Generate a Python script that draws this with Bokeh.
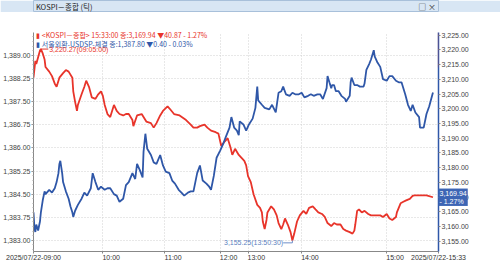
import numpy as np
from bokeh.plotting import figure
from bokeh.models import Range1d, LinearAxis, FixedTicker, NumeralTickFormatter, Label, BoxAnnotation
from bokeh.layouts import column
from bokeh.embed import file_html
from bokeh.resources import INLINE

# ---------------- data (tick sequence position, value) ----------------
kospi_idx = [0, 2, 3, 7, 8, 10, 12, 13, 17, 20, 23, 25, 28, 32, 35, 38, 42, 43, 45, 47,
             48, 52, 55, 57, 60, 63, 67, 70, 73, 75, 77, 80, 83, 87, 90, 93, 97, 100, 103, 107,
             108, 112, 117, 122, 127, 130, 133, 137, 140, 145, 148, 152, 158, 165, 170, 173, 177, 180, 185, 188,
             192, 197, 200, 203, 207, 210, 213, 215, 218, 222, 225, 228, 230, 232, 235, 238, 242, 245, 247, 248,
             250, 252, 253, 257, 260, 263, 265, 268, 270, 272, 275, 278, 280, 282, 285, 288, 292, 295, 298, 302,
             305, 308, 312, 315, 318, 322, 325, 328, 332, 335, 338, 342, 345, 347, 348, 350, 352, 355, 358, 362,
             365, 368, 372, 375, 378, 382, 385, 388, 392, 393, 395, 397, 400, 403, 407, 410, 412, 418, 425, 432]
kospi_val = [3210.56, 3216.23, 3215.19, 3219.81, 3220.27, 3218.80, 3216.73, 3214.17, 3212.62, 3211.08,
             3208.52, 3207.47, 3210.56, 3212.10, 3213.15, 3212.62, 3210.56, 3205.93, 3202.35, 3199.26,
             3201.30, 3204.91, 3207.47, 3209.54, 3207.47, 3203.89, 3203.36, 3204.91, 3205.93, 3204.38,
             3201.30, 3198.21, 3197.19, 3201.30, 3199.26, 3198.21, 3197.72, 3198.21, 3198.21, 3196.17,
             3194.10, 3197.72, 3198.21, 3195.65, 3195.12, 3193.58, 3195.12, 3197.72, 3199.26, 3200.80,
             3199.75, 3198.21, 3197.72, 3196.17, 3194.63, 3193.58, 3193.58, 3194.10, 3194.63, 3193.58,
             3192.56, 3192.04, 3191.54, 3187.41, 3188.95, 3190.00, 3186.91, 3184.32, 3186.39, 3184.32,
             3183.30, 3182.28, 3180.74, 3177.13, 3175.06, 3170.96, 3167.35, 3166.33, 3164.78, 3161.70,
             3159.14, 3162.22, 3164.78, 3166.85, 3165.80, 3163.77, 3161.17, 3159.14, 3160.68, 3162.72,
             3160.68, 3158.09, 3155.25, 3157.59, 3161.70, 3163.77, 3165.31, 3164.26, 3166.33, 3166.85,
             3165.80, 3164.78, 3164.26, 3163.24, 3161.17, 3160.15, 3161.17, 3160.68, 3160.68, 3159.14,
             3158.61, 3158.09, 3157.59, 3158.61, 3160.68, 3165.31, 3165.80, 3164.78, 3165.31, 3164.26,
             3163.77, 3163.77, 3163.77, 3163.77, 3163.24, 3164.26, 3162.72, 3162.22, 3163.24, 3164.78,
             3166.33, 3167.87, 3168.40, 3168.89, 3169.41, 3170.43, 3170.60, 3170.60, 3170.60, 3169.94]

usd_idx = [0, 1, 2, 3, 5, 7, 8, 10, 12, 13, 17, 20, 23, 25, 27, 28, 29, 31, 32, 35,
           38, 40, 42, 43, 45, 48, 52, 55, 58, 62, 64, 67, 70, 73, 77, 80, 83, 87, 90, 93,
           97, 100, 103, 107, 110, 112, 115, 118, 119, 121, 123, 127, 130, 133, 137, 140, 143, 147, 150, 153,
           157, 160, 163, 167, 170, 173, 177, 180, 183, 187, 190, 192, 195, 198, 202, 205, 208, 212, 214, 217,
           220, 222, 223, 227, 230, 233, 237, 240, 242, 243, 247, 250, 255, 258, 262, 265, 268, 270, 273, 277,
           280, 283, 287, 290, 293, 297, 300, 303, 307, 310, 313, 317, 318, 320, 322, 323, 325, 327, 330, 333,
           337, 338, 342, 343, 344, 347, 350, 353, 357, 358, 360, 363, 365, 368, 369, 372, 375, 378, 382, 385,
           388, 392, 395, 398, 402, 405, 408, 410, 413, 417, 418, 422, 425, 428, 432]
usd_val = [1383.91, 1383.41, 1383.27, 1383.51, 1383.32, 1383.61, 1383.91, 1384.30, 1384.59, 1384.50,
           1384.64, 1384.55, 1384.69, 1384.89, 1385.18, 1385.48, 1385.58, 1385.18, 1384.89, 1384.59,
           1384.35, 1384.10, 1383.91, 1383.76, 1383.96, 1384.15, 1384.35, 1384.55, 1384.45, 1384.69,
           1385.18, 1384.89, 1384.64, 1384.74, 1384.64, 1384.69, 1384.69, 1384.50, 1384.45, 1384.25,
           1384.35, 1384.79, 1384.89, 1385.18, 1384.99, 1385.48, 1385.28, 1385.04, 1385.87, 1386.46,
           1385.97, 1385.77, 1385.53, 1385.48, 1385.77, 1385.43, 1385.23, 1385.18, 1384.94, 1384.84,
           1384.64, 1384.55, 1384.45, 1384.55, 1384.59, 1384.59, 1385.18, 1385.43, 1384.94, 1384.84,
           1384.74, 1384.64, 1385.09, 1385.68, 1385.92, 1386.12, 1386.36, 1386.66, 1387.00, 1386.66,
           1386.56, 1386.41, 1386.86, 1386.76, 1386.56, 1386.76, 1386.95, 1387.30, 1387.99, 1387.54,
           1387.40, 1387.30, 1387.25, 1387.40, 1387.15, 1387.79, 1387.84, 1387.99, 1387.74, 1387.69,
           1387.79, 1387.74, 1387.74, 1387.79, 1387.64, 1387.69, 1387.74, 1387.69, 1387.74, 1387.74,
           1387.59, 1387.94, 1388.33, 1388.13, 1387.94, 1388.04, 1388.04, 1387.84, 1387.84, 1387.69,
           1387.59, 1387.50, 1387.69, 1388.13, 1388.28, 1388.04, 1388.04, 1387.99, 1387.99, 1388.09,
           1388.53, 1388.72, 1388.87, 1389.17, 1388.97, 1388.77, 1388.63, 1388.23, 1388.18, 1388.33,
           1388.33, 1388.18, 1388.13, 1388.13, 1387.74, 1387.40, 1387.20, 1387.40, 1387.15, 1387.00,
           1386.66, 1386.66, 1387.10, 1387.35, 1387.80]

time_tick_idx = [0, 75, 142, 202, 232, 290, 382, 438]
time_tick_labels = ["2025/07/22-09:00", "10:00", "11:00", "12:00", "13:00", "14:00", "15:00", "2025/07/22-15:33"]
usd_ticks = [1383.00, 1383.75, 1384.50, 1385.25, 1386.00, 1386.75, 1387.50, 1388.25, 1389.00]
kospi_ticks = [3155, 3160, 3165, 3170, 3175, 3180, 3185, 3190, 3195, 3200, 3205, 3210, 3215, 3220, 3225]

kospi_last, kospi_chg, kospi_pct, kospi_time = 3169.94, -40.87, -1.27, "15:33:00"
usd_last, usd_chg, usd_pct = 1387.80, -0.40, -0.03
kospi_high, kospi_high_idx, kospi_high_time = 3220.27, 8, "09:05:00"
kospi_low, kospi_low_idx, kospi_low_time = 3155.25, 280, "13:50:30"

RED = "#e8342a"
BLUE = "#2f57a8"
KR = "Noto Sans CJK KR"
NUM = "Liberation Sans"

# ---------------- title bar ----------------
tf = figure(width=500, height=12, x_range=Range1d(0, 500), y_range=Range1d(0, 12),
            toolbar_location=None, output_backend="svg", min_border=0,
            x_axis_type=None, y_axis_type=None)
tf.grid.visible = False
tf.outline_line_color = "#a8c0da"
tf.background_fill_color = "#d8e6f4"
tf.border_fill_color = "#d8e6f4"
tf.add_layout(Label(x=3, y=6, text="KOSPI－종합 (틱)", text_font=KR, text_font_size="7.5px",
                    text_color="#222222", text_baseline="middle"))
tf.add_layout(Label(x=497, y=6, text="□ ×", text_font=KR, text_font_size="8px",
                    text_color="#333333", text_baseline="middle", text_align="right"))

# ---------------- main chart ----------------
FRAME_H = 241
usd_range = Range1d(1382.637, 1389.746)
p = figure(width=500, height=251, x_range=Range1d(0, 438), y_range=usd_range,
           toolbar_location=None, output_backend="svg",
           min_border_left=30, min_border_right=32, min_border_top=0, min_border_bottom=10)
p.extra_y_ranges = {"kospi": Range1d(3151.51, 3225.90)}
p.outline_line_color = None
p.background_fill_color = "white"
p.border_fill_color = "white"

# x axis: tick marks at the true times (minor ticks), labels placed just right of them
x_end = time_tick_idx[-1]
label_pos = [t + 9 if 0 < t < x_end else t for t in time_tick_idx]
p.xaxis.ticker = FixedTicker(ticks=label_pos, minor_ticks=time_tick_idx)
p.xaxis.major_label_overrides = {lp: lab for lp, lab in zip(label_pos, time_tick_labels)}
p.xaxis.major_label_text_font = NUM
p.xaxis.major_label_text_font_size = "7px"
p.xaxis.major_label_text_color = "#333333"
p.xaxis.major_label_standoff = 0
p.xaxis.major_tick_out = 0
p.xaxis.major_tick_in = 0
p.xaxis.minor_tick_out = 2
p.xaxis.minor_tick_in = 0
p.xaxis.axis_line_color = "#888888"
p.xaxis.minor_tick_line_color = "#888888"
p.xgrid.ticker = FixedTicker(ticks=time_tick_idx[1:-1])
p.xgrid.grid_line_color = "#d0d0d0"
p.xgrid.grid_line_dash = "1 2"

# left axis (USD/KRW)
p.yaxis.ticker = FixedTicker(ticks=usd_ticks, minor_ticks=list(np.arange(1382.70, 1389.75, 0.15)))
p.yaxis.formatter = NumeralTickFormatter(format="0,0.00")
p.yaxis.major_label_text_font = NUM
p.yaxis.major_label_text_font_size = "7px"
p.yaxis.major_label_text_color = "#444444"
p.yaxis.major_label_standoff = 1
p.yaxis.major_tick_out = 2
p.yaxis.major_tick_in = 0
p.yaxis.minor_tick_out = 1
p.yaxis.minor_tick_in = 0
p.yaxis.axis_line_color = "#888888"
p.yaxis.major_tick_line_color = "#888888"
p.yaxis.minor_tick_line_color = "#aaaaaa"
p.ygrid.grid_line_color = "#d0d0d0"
p.ygrid.grid_line_dash = "1 2"

# right axis (KOSPI)
ra = LinearAxis(y_range_name="kospi", ticker=FixedTicker(ticks=kospi_ticks),
                formatter=NumeralTickFormatter(format="0,0.00"))
ra.major_label_text_font = NUM
ra.major_label_text_font_size = "7px"
ra.major_label_text_color = "#444444"
ra.major_label_standoff = 1
ra.major_tick_out = 2
ra.major_tick_in = 0
ra.minor_tick_out = 0
ra.minor_tick_in = 0
ra.axis_line_color = BLUE
ra.axis_line_width = 1.5
ra.major_tick_line_color = "#888888"
p.add_layout(ra, "right")

# red top part of the right axis line
p.add_layout(BoxAnnotation(left=x_end, right=x_end, bottom=3214.0, top=3225.90, y_range_name="kospi",
                           fill_color=None, line_color=RED, line_width=1.5), "right")

# series
p.line(kospi_idx, kospi_val, y_range_name="kospi", line_color=RED, line_width=1.8)
p.line(usd_idx, usd_val, line_color=BLUE, line_width=1.8)

# high / low annotations
p.line([kospi_high_idx, kospi_high_idx + 8], [kospi_high, kospi_high], y_range_name="kospi",
       line_color=RED, line_width=1)
p.add_layout(Label(x=kospi_high_idx + 9, y=kospi_high, y_range_name="kospi",
                   text=f"{kospi_high:,.2f}({kospi_high_time})", text_font=NUM, text_font_size="7px",
                   text_color=RED, text_baseline="middle"))
p.line([kospi_low_idx - 10, kospi_low_idx, kospi_low_idx], [kospi_low - 0.8, kospi_low - 0.8, kospi_low],
       y_range_name="kospi", line_color="#6f8fc8", line_width=1)
p.add_layout(Label(x=kospi_low_idx - 10, y=kospi_low - 0.8, y_range_name="kospi",
                   text=f"{kospi_low:,.2f}({kospi_low_time})", text_font=NUM, text_font_size="7px",
                   text_color="#5b7fc0", text_baseline="middle", text_align="right"))

# legend lines (in the top side panel so the frame does not clip them), placed 2.5 px and
# 12.5 px below the frame top through the left scale
usd_px = FRAME_H / (usd_range.end - usd_range.start)
p.add_layout(Label(x=3, y=usd_range.end - 2.5 / usd_px,
                   text=f"▮ <KOSPI－종합> {kospi_time} 종:{kospi_last:,.2f}  ▼{abs(kospi_chg):.2f}  - {abs(kospi_pct):.2f}%",
                   text_font=KR, text_font_size="7px", text_color=RED, text_baseline="middle"), "above")
p.add_layout(Label(x=3, y=usd_range.end - 12.5 / usd_px,
                   text=f"▮ 서울외환-USDSP-체결 종:{usd_last:,.2f} ▼{abs(usd_chg):.2f} - {abs(usd_pct):.2f}%",
                   text_font=KR, text_font_size="7px", text_color=BLUE, text_baseline="middle"), "above")

# last value tag beside the right axis (in the right side panel, so it is not clipped)
tag = Label(x=x_end, y=kospi_last, y_range_name="kospi", x_offset=0,
            text=f"{kospi_last:,.2f}\n- {abs(kospi_pct):.2f}%", text_font=NUM, text_font_size="7px",
            text_color="white", background_fill_color="#3d65b4", text_baseline="middle",
            padding=1)
p.add_layout(tag, "right")

layout = column(tf, p, spacing=0)
open("out.html", "w").write(file_html(layout, INLINE))
